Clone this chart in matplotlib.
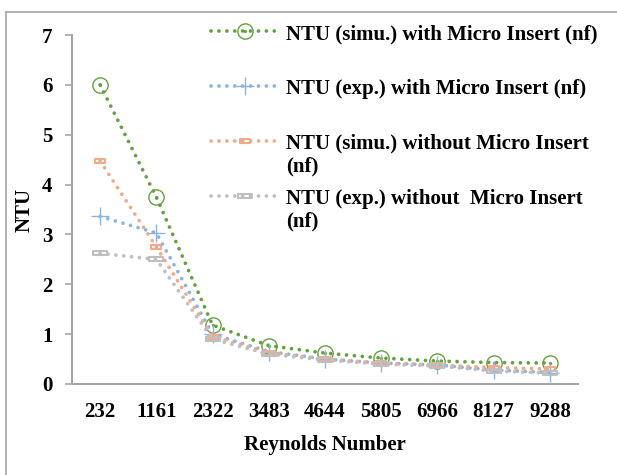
import numpy as np
import matplotlib.pyplot as plt
from matplotlib.path import Path
from matplotlib.lines import Line2D

# data
reynolds = ['232', '1161', '2322', '3483', '4644', '5805', '6966', '8127', '9288']
ntu_simu_insert = [6.0, 3.75, 1.18, 0.77, 0.62, 0.52, 0.46, 0.43, 0.42]
ntu_exp_insert = [3.36, 3.03, 1.0, 0.65, 0.5, 0.42, 0.38, 0.28, 0.23]
ntu_simu_plain = [4.47, 2.75, 0.95, 0.63, 0.5, 0.42, 0.38, 0.33, 0.3]
ntu_exp_plain = [2.62, 2.5, 0.9, 0.6, 0.48, 0.4, 0.36, 0.26, 0.22]

labels = ['NTU (simu.) with Micro Insert (nf)\n ',
          'NTU (exp.) with Micro Insert (nf)\n ',
          'NTU (simu.) without Micro Insert\n(nf)',
          'NTU (exp.) without  Micro Insert\n(nf)']

plt.rcParams['font.family'] = 'Liberation Serif'
plt.rcParams['font.weight'] = 'bold'
FS = 15

# markers
circ_dot = Path.make_compound_path(Path.unit_circle(), Path.circle((0, 0), 0.12))
rect = Path([(-1, -0.3), (1, -0.3), (1, 0.3), (-1, 0.3), (-1, -0.3)],
            [Path.MOVETO, Path.LINETO, Path.LINETO, Path.LINETO, Path.CLOSEPOLY])

fig = plt.figure(figsize=(6.17, 4.75), dpi=100)
ax = fig.add_axes([0.1167, 0.1916, 0.82, 0.7347])

x = np.arange(len(reynolds))
dots = (0, (0.01, 2.1))
kw = dict(linestyle=dots, lw=2.7, dash_capstyle='round', fillstyle='none')

ax.plot(x, ntu_simu_insert, color='#64A23F', marker=circ_dot, ms=11, mew=1.0, label=labels[0], **kw)
ax.plot(x, ntu_exp_insert, color='#8DB3E2', marker='+', ms=13, mew=1.0, label=labels[1], **kw)
ax.plot(x, ntu_simu_plain, color='#F4A988', marker=rect, ms=7.5, mew=1.5, label=labels[2], **kw)
ax.plot(x, ntu_exp_plain, color='#BFBFBF', marker=rect, ms=10, mew=1.5, label=labels[3], **kw)

ax.set_xlim(-0.5, len(reynolds) - 0.5)
ax.set_ylim(0, 7)
ax.set_xticks(x)
ax.set_xticklabels(reynolds)
ax.set_yticks(range(8))
ax.tick_params(axis='x', length=0, labelsize=FS, pad=13)
ax.tick_params(axis='y', length=5, width=1.2, color='#A6A6A6', labelsize=FS, pad=9)
for s in ['top', 'right']:
    ax.spines[s].set_visible(False)
for s in ['left', 'bottom']:
    ax.spines[s].set_color('#A6A6A6')
    ax.spines[s].set_linewidth(1.5)

ax.set_xlabel('Reynolds Number', fontsize=FS, fontweight='bold', labelpad=9)
ax.set_ylabel('NTU', fontsize=FS, fontweight='bold', labelpad=5)

leg = ax.legend(loc='upper left', bbox_to_anchor=(0.258, 1.055), frameon=False,
                fontsize=FS, handlelength=3.3, handletextpad=0.3,
                labelspacing=0.57, borderaxespad=0)
for col in leg._legend_handle_box.get_children():
    for item in col.get_children():
        item.align = 'top'

# outer chart border (only top and left edges fall inside the image)
fig.add_artist(Line2D([6 / 617, 1.0], [1 - 12 / 475, 1 - 12 / 475], color='#A6A6A6', lw=1.2))
fig.add_artist(Line2D([6 / 617, 6 / 617], [0, 1 - 12 / 475], color='#A6A6A6', lw=1.2))

fig.savefig('out.png', dpi=100)
